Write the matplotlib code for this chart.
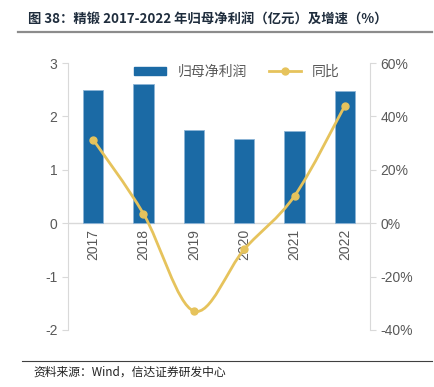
import matplotlib
matplotlib.use('Agg')
import matplotlib.pyplot as plt
from matplotlib.path import Path
from matplotlib.patches import PathPatch
from matplotlib.lines import Line2D

plt.rcParams['font.family'] = ['Liberation Sans', 'Noto Sans CJK SC', 'DejaVu Sans']
plt.rcParams['axes.unicode_minus'] = False

years = ['2017', '2018', '2019', '2020', '2021', '2022']
profit = [2.50, 2.60, 1.74, 1.57, 1.73, 2.47]      # 归母净利润（亿元）
growth = [31.3, 3.5, -32.9, -9.8, 10.2, 44.0]      # 同比（%）

bar_color = '#1B6AA5'
line_color = '#E6C35C'
grey = '#595959'
axis_grey = '#D9D9D9'

fig = plt.figure(figsize=(4.35, 3.87), dpi=100)
ax = fig.add_axes([0.1563, 0.1473, 0.6943, 0.6899])
ax2 = ax.twinx()

x = list(range(len(years)))
ax.bar(x, profit, width=0.4, color=bar_color, edgecolor='#8DB4D6', linewidth=0.6, zorder=2)
ax.set_xlim(-0.5, len(years) - 0.5)
ax.set_ylim(-2, 3)
ax.set_yticks([-2, -1, 0, 1, 2, 3])
ax.axhline(0, color=axis_grey, lw=1, zorder=1)
ax.set_xticks([])

for i, y in enumerate(years):
    ax.annotate(y, (i, 0), xytext=(0, -4), textcoords='offset points',
                rotation=90, ha='center', va='top', fontsize=10, color=grey)

# 平滑曲线（显示样式）
pts = list(zip(x, growth))
verts = [pts[0]]
codes = [Path.MOVETO]
n = len(pts)
for i in range(n - 1):
    p0 = pts[i - 1] if i > 0 else pts[i]
    p1 = pts[i]
    p2 = pts[i + 1]
    p3 = pts[i + 2] if i + 2 < n else pts[i + 1]
    c1 = (p1[0] + (p2[0] - p0[0]) / 6, p1[1] + (p2[1] - p0[1]) / 6)
    c2 = (p2[0] - (p3[0] - p1[0]) / 6, p2[1] - (p3[1] - p1[1]) / 6)
    verts += [c1, c2, p2]
    codes += [Path.CURVE4] * 3
ax2.add_patch(PathPatch(Path(verts, codes), fill=False, edgecolor=line_color, lw=2, zorder=3))
ax2.plot(x, growth, linestyle='none', marker='o', ms=5, color=line_color, zorder=4)
ax2.set_ylim(-40, 60)
ax2.set_yticks([-40, -20, 0, 20, 40, 60])
ax2.set_yticklabels([f'{v}%' for v in [-40, -20, 0, 20, 40, 60]])

for a in (ax, ax2):
    for s in ['top', 'bottom']:
        a.spines[s].set_visible(False)
    a.tick_params(axis='y', colors=axis_grey, labelcolor=grey, labelsize=10, length=4)
ax.spines['right'].set_visible(False)
ax.spines['left'].set_color(axis_grey)
ax2.spines['left'].set_visible(False)
ax2.spines['right'].set_color(axis_grey)

handles = [plt.Rectangle((0, 0), 1, 1, color=bar_color),
           Line2D([], [], color=line_color, lw=2, marker='o', ms=5)]
ax.legend(handles, ['归母净利润', '同比'], loc='upper center', bbox_to_anchor=(0.56, 1.04),
          ncol=2, frameon=False, fontsize=10, handlelength=2.3, handleheight=0.6,
          columnspacing=1.6, labelcolor=grey)

fig.text(0.065, 0.948, '图 38：精锻 2017-2022 年归母净利润（亿元）及增速（%）',
         fontsize=9.6, fontweight='bold', color='#1F2D3D', va='center',
         family=['Noto Sans CJK SC', 'DejaVu Sans'])
fig.add_artist(Line2D([0.042, 0.993], [0.917, 0.917], color='#8C8C8C', lw=1.6))
fig.add_artist(Line2D([0.05, 0.993], [0.067, 0.067], color='#404040', lw=0.8))
fig.text(0.076, 0.038, '资料来源：Wind，信达证券研发中心', fontsize=8.5, style='italic',
         color='#222222', va='center', family=['Noto Sans CJK SC', 'DejaVu Sans'])

fig.savefig('out.png', dpi=100)
